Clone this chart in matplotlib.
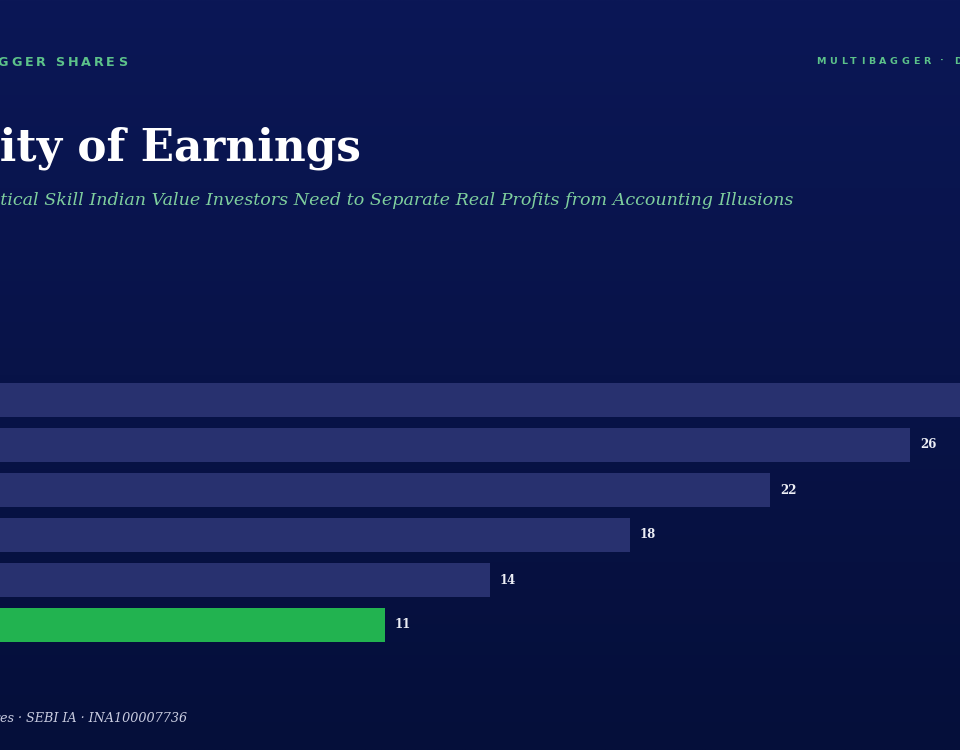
import numpy as np
import matplotlib
matplotlib.use("Agg")
import matplotlib.pyplot as plt

## data (top bar to bottom bar)
values = [30, 26, 22, 18, 14, 11]
bar_colors = ["#28316f", "#28316f", "#28316f", "#28316f", "#28316f", "#22b350"]
value_labels = ["30", "26", "22", "18", "14", "11"]

W, H = 960, 750
fig = plt.figure(figsize=(W / 100, H / 100), dpi=100)

# background gradient
bg = fig.add_axes([0, 0, 1, 1], zorder=0)
top = np.array([0x0b, 0x17, 0x56]) / 255
bot = np.array([0x05, 0x0f, 0x3a]) / 255
t = np.linspace(0, 1, 256)[:, None, None]
grad = top * (1 - t) + bot * t
bg.imshow(np.repeat(grad, 4, axis=1), aspect="auto", extent=[0, 1, 0, 1])
bg.set_axis_off()

renderer = fig.canvas.get_renderer()


def text_width(s, size, **kw):
    tmp = fig.text(0, 0, s, fontsize=size, **kw)
    w = tmp.get_window_extent(renderer).width
    tmp.remove()
    return w


def cut_text(prefix, visible, x0, y, width=None, size=10, **kw):
    # full string, shifted so that `visible` starts at pixel x0
    if width is not None:
        size = size * width / text_width(visible, size, **kw)
    off = text_width(prefix, size, **kw) if prefix else 0
    fig.text((x0 - off) / W, 1 - y / H, prefix + visible, fontsize=size,
             va="baseline", ha="left", **kw)


def tracked(s, x, y, size, track, right=False, **kw):
    # letter-spaced label, one glyph at a time
    space = text_width("n", size, **kw) * 0.4
    adv = [(text_width(c, size, **kw) if c != " " else space) + track for c in s]
    if right:
        x = x - sum(adv) + track
    for c, a in zip(s, adv):
        if c != " ":
            fig.text(x / W, 1 - y / H, c, fontsize=size, va="baseline", ha="left", **kw)
        x += a


lab_kw = dict(family="DejaVu Sans", weight="bold", color="#5cc28a")
tracked("MULTIBAGGER SHARES", 127, 66, 9.2, 2.9, right=True, **lab_kw)
tracked("MULTIBAGGER · DEEP DIVE", 816, 64, 6.8, 3.7, **lab_kw)

cut_text("Qual", "ity of Earnings", 0, 160, width=362,
         family="DejaVu Serif", weight="bold", color="#ffffff")
cut_text("The Cri",
         "tical Skill Indian Value Investors Need to Separate Real Profits from Accounting Illusions",
         0, 205, width=792, family="DejaVu Serif", style="italic", color="#7fcf9e")
cut_text("Multibagger Shar", "es · SEBI IA · INA100007736", 0, 722, width=188,
         family="DejaVu Serif", style="italic", color="#c9cce0")

# bars
ax = fig.add_axes([0, 1 - 647.5 / H, 1, 270 / H], zorder=1)
ax.set_facecolor("none")
ypos = np.arange(len(values))
ax.barh(ypos, values, height=34 / 45, color=bar_colors, edgecolor="none")
ax.set_xlim(0, W / 35)
ax.set_ylim(len(values) - 0.5, -0.5)
ax.set_axis_off()
for y, v, lab in zip(ypos, values, value_labels):
    ax.text(v + 10 / 35, y, lab, va="center", ha="left", fontsize=8.5,
            family="DejaVu Serif", weight="bold", color="#eceef5")

fig.savefig("out.png", dpi=100)
